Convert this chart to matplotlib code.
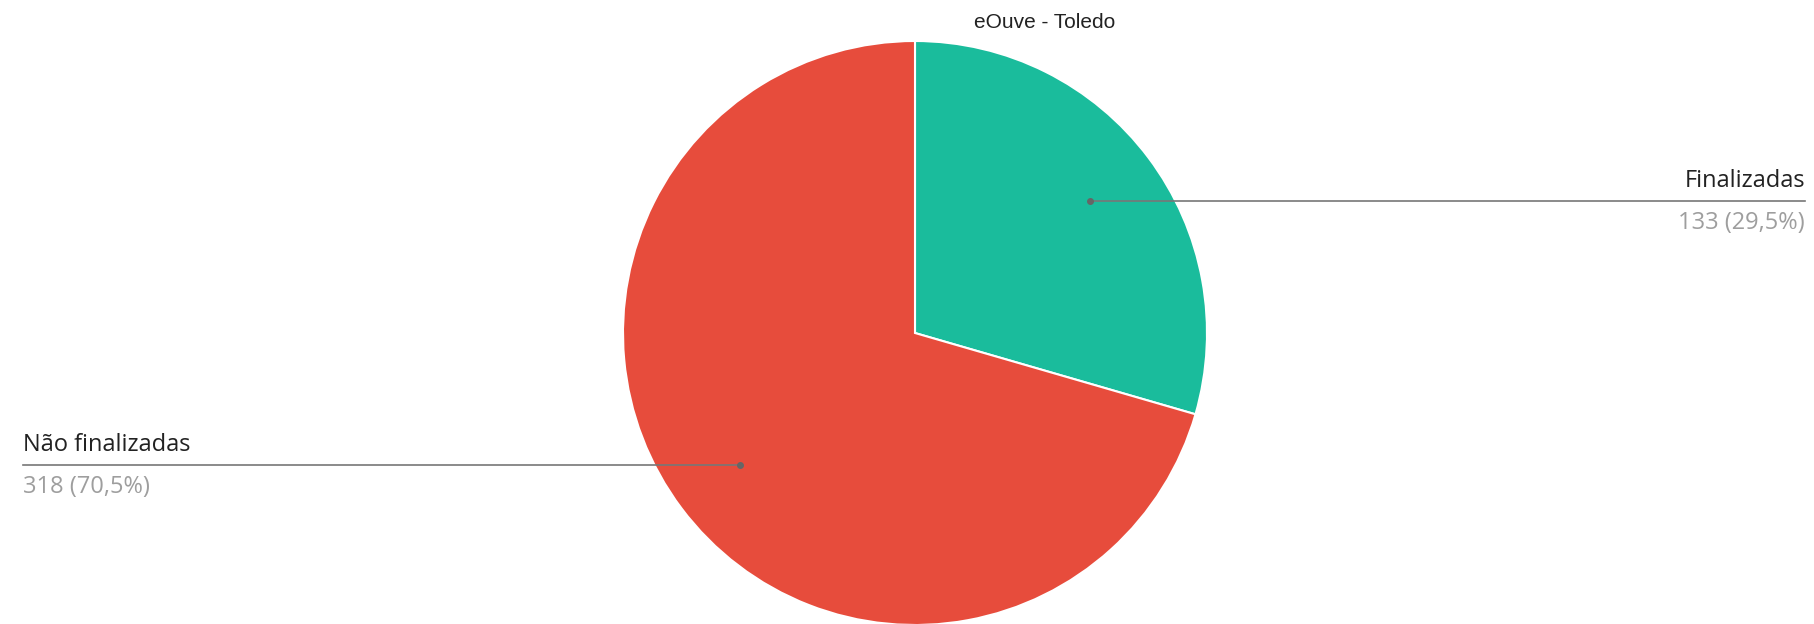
import numpy as np
import matplotlib.pyplot as plt
from matplotlib.patches import Rectangle

title = 'eOuve - Toledo'
labels = ['Finalizadas', 'Não finalizadas']
values = [133, 318]
colors = ['#1abc9c', '#e74c3c']

W, H = 1815, 624
fig = plt.figure(figsize=(W / 100, H / 100), dpi=100)
ax = fig.add_axes([0, 0, 1, 1])

cx, cy, r = 915, H - 333, 292
wedges, _ = ax.pie(values, colors=colors, startangle=90, counterclock=False,
                   center=(cx, cy), radius=r, frame=True,
                   wedgeprops=dict(edgecolor='white', linewidth=1.5))
ax.set_xlim(0, W)
ax.set_ylim(0, H)
ax.axis('off')
# the chart area cuts off the very top of the pie
clip = Rectangle((0, 0), W, H - 46, transform=ax.transData)
for w in wedges:
    w.set_clip_path(clip)

total = sum(values)
for w, lab, v in zip(wedges, labels, values):
    ang = np.deg2rad((w.theta1 + w.theta2) / 2)
    px = cx + 0.75 * r * np.cos(ang)
    py = cy + 0.75 * r * np.sin(ang)
    pct = f'{v} ({100 * v / total:.1f}%)'.replace('.', ',')
    if np.cos(ang) >= 0:
        x_end, ha = W - 10, 'right'
    else:
        x_end, ha = 23, 'left'
    ax.plot([px, x_end], [py, py], color='#777777', lw=1.2)
    ax.plot(px, py, 'o', color='#666666', ms=4)
    ax.text(x_end, py + 20, lab, ha=ha, va='center', fontsize=17,
            family='Open Sans', color='#222222')
    ax.text(x_end, py - 22, pct, ha=ha, va='center', fontsize=17,
            family='Open Sans', color='#9e9e9e')

fig.text(1045 / W, 1 - 23 / H, title, ha='center', va='center',
         fontsize=15, family='Liberation Sans', color='#222222')

fig.savefig('out.png', dpi=100)
